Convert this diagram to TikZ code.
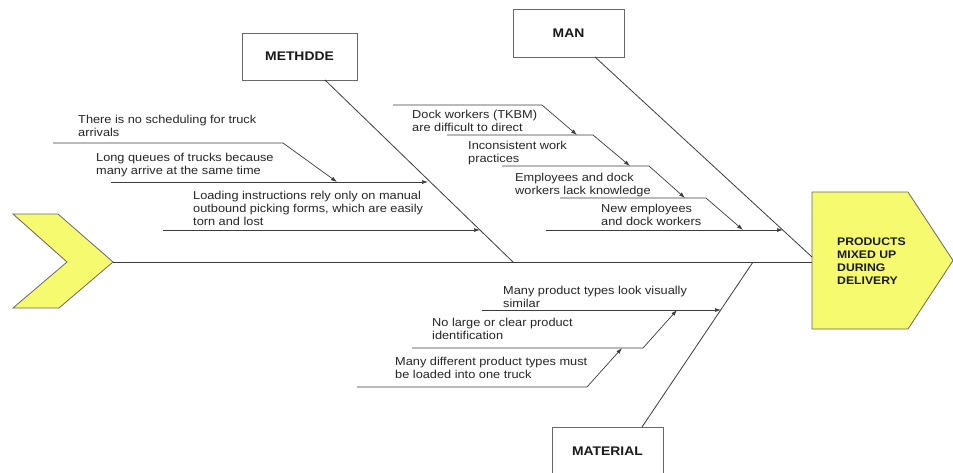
\documentclass[tikz,border=0pt]{standalone}
\usepackage{fontspec}
\setmainfont{Liberation Sans}[FakeStretch=1.11]
\usetikzlibrary{arrows.meta}
\definecolor{headyellow}{RGB}{246,250,110}
\definecolor{linegray}{RGB}{60,60,60}
\definecolor{boxgray}{RGB}{105,105,105}
\begin{document}
\begin{tikzpicture}[x=1pt,y=-1pt,
  bone/.style={draw=linegray, line width=0.8pt},
  sub/.style={draw=linegray, line width=0.7pt},
  arr/.style={sub, -{Latex[length=6pt,width=4pt]}},
  cause/.style={anchor=base west, inner sep=0pt, align=left,
    font=\fontsize{11.5}{13.3}\selectfont, text=black!85},
  catbox/.style={draw=boxgray, line width=0.8pt, fill=white, inner sep=0pt,
    font=\bfseries\fontsize{12.5}{14}\selectfont, text=black!90},
  fishpart/.style={draw=boxgray, line width=0.8pt, fill=headyellow}
]
\clip (0,0) rectangle (953,472);
\fill[white] (0,0) rectangle (953,472);

% tail
\draw[fishpart] (13,214) -- (58,214) -- (113,262) -- (59,308) -- (13,308) -- (67,262) -- cycle;
\coordinate (tail) at (113,262);
% head
\draw[fishpart] (812,192) -- (908,192) -- (953,260.5) -- (908,329) -- (812,329) -- cycle;
\coordinate (headL) at (812,262);
\coordinate (headLm) at (812,257);
% (base anchor of a multi-line node = baseline of its last line)
\node[anchor=base west, inner sep=0pt, align=left, font=\bfseries\fontsize{11}{13}\selectfont, text=black!90]
  (effect) at (837,284) {PRODUCTS\\MIXED UP\\DURING\\DELIVERY};

% spine
\draw[bone] (tail) -- (headL);

% category boxes
\node[catbox, minimum width=115, minimum height=47] (meth) at (299.5,56.5) {METHDDE};
\node[catbox, minimum width=111, minimum height=48] (man) at (568.5,33) {MAN};
\node[catbox, minimum width=111, minimum height=48] (mat) at (607.5,451) {MATERIAL};

% main bones
\coordinate (methS) at (325,80);
\coordinate (methE) at (513,262);
\coordinate (manS) at (595,57);
\coordinate (matS) at (642,427);
\coordinate (matE) at (753,262);
\draw[bone] (methS) -- (methE);
\draw[bone] (manS) -- (headLm);
\draw[bone] (matS) -- (matE);

% ---- METHDDE causes
\coordinate (a1s) at (53,143);  \coordinate (a1k) at (283,143); \coordinate (a1e) at (337,182);
\coordinate (a2s) at (111,182); \coordinate (a2e) at (428,182);
\coordinate (a3s) at (163,230); \coordinate (a3e) at (480,230);
\draw[arr] (a1s) -- (a1k) -- (a1e);
\draw[arr] (a2s) -- (a2e);
\draw[arr] (a3s) -- (a3e);
\node[cause] (t1) at (78,136.3) {There is no scheduling for truck\\arrivals};
\node[cause] (t2) at (96,174.3) {Long queues of trucks because\\many arrive at the same time};
\node[cause] (t3) at (193,225.6) {Loading instructions rely only on manual\\outbound picking forms, which are easily\\torn and lost};

% ---- MAN causes
\coordinate (b1s) at (393,105); \coordinate (b1k) at (542,105); \coordinate (b1e) at (577,135);
\coordinate (b2s) at (447,135); \coordinate (b2k) at (593,135); \coordinate (b2e) at (630,166);
\coordinate (b3s) at (502,166); \coordinate (b3k) at (649,166); \coordinate (b3e) at (685,198);
\coordinate (b4s) at (560,198); \coordinate (b4k) at (706,198); \coordinate (b4e) at (743,230);
\coordinate (b5s) at (546,230); \coordinate (b5e) at (783,230);
\draw[arr] (b1s) -- (b1k) -- (b1e);
\draw[arr] (b2s) -- (b2k) -- (b2e);
\draw[arr] (b3s) -- (b3k) -- (b3e);
\draw[arr] (b4s) -- (b4k) -- (b4e);
\draw[arr] (b5s) -- (b5e);
\node[cause] (m1) at (412,131.3) {Dock workers (TKBM)\\are difficult to direct};
\node[cause] (m2) at (468,162.3) {Inconsistent work\\practices};
\node[cause] (m3) at (515,194.3) {Employees and dock\\workers lack knowledge};
\node[cause] (m4) at (601,225.3) {New employees\\and dock workers};

% ---- MATERIAL causes
\coordinate (c1s) at (482,310); \coordinate (c1e) at (721,310);
\coordinate (c2s) at (412,348); \coordinate (c2k) at (643,348); \coordinate (c2e) at (677,310);
\coordinate (c3s) at (357,387); \coordinate (c3k) at (587,387); \coordinate (c3e) at (622,348);
\draw[arr] (c1s) -- (c1e);
\draw[arr] (c2s) -- (c2k) -- (c2e);
\draw[arr] (c3s) -- (c3k) -- (c3e);
\node[cause] (p1) at (503,307.3) {Many product types look visually\\similar};
\node[cause] (p2) at (432,339.3) {No large or clear product\\identification};
\node[cause] (p3) at (395,378.3) {Many different product types must\\be loaded into one truck};
\end{tikzpicture}
\end{document}
